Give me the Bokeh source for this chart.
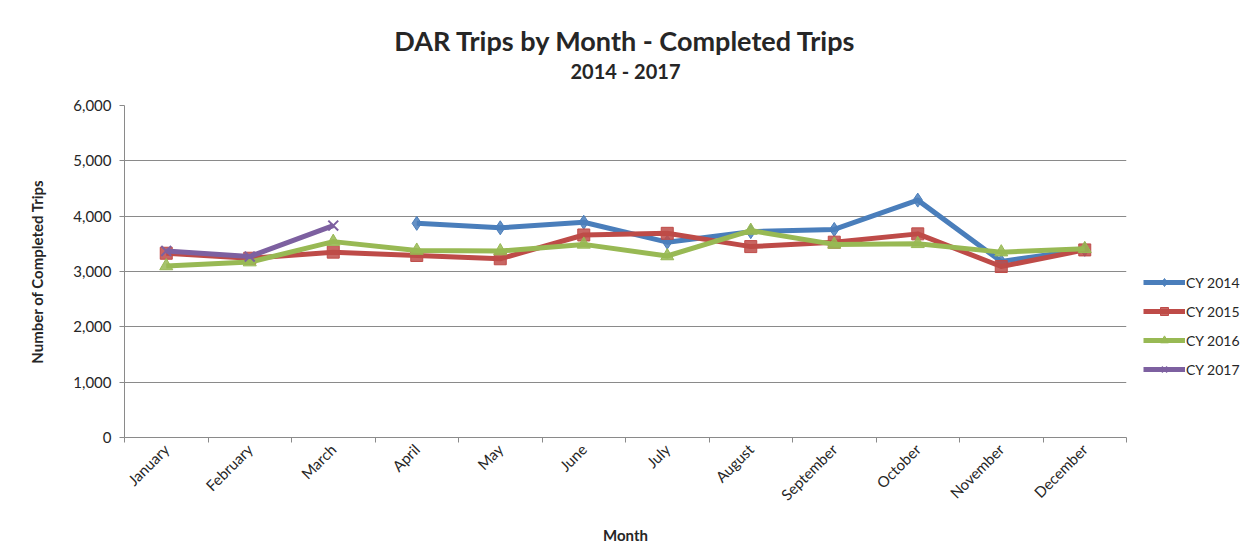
import math
from bokeh.plotting import figure
from bokeh.models import (FixedTicker, NumeralTickFormatter, Legend, LegendItem,
                          Title, Range1d)
from bokeh.embed import file_html
from bokeh.resources import INLINE

nan = float("nan")

months = ["January", "February", "March", "April", "May", "June", "July",
          "August", "September", "October", "November", "December"]
cy2014 = [nan, nan, nan, 3870, 3790, 3890, 3530, 3720, 3760, 4290, 3180, 3400]
cy2015 = [3330, 3240, 3350, 3290, 3230, 3660, 3690, 3450, 3530, 3680, 3090, 3390]
cy2016 = [3100, 3170, 3540, 3380, 3370, 3490, 3280, 3740, 3490, 3500, 3350, 3410]
cy2017 = [3370, 3270, 3830, nan, nan, nan, nan, nan, nan, nan, nan, nan]
y_ticks = [0, 1000, 2000, 3000, 4000, 5000, 6000]

series = [
    ("CY 2014", cy2014, "#4A7EBB", "diamond", 14),
    ("CY 2015", cy2015, "#BE4B48", "square", 12),
    ("CY 2016", cy2016, "#98B954", "triangle", 13),
    ("CY 2017", cy2017, "#7D60A0", "x", 14),
]

xs = [i + 0.5 for i in range(len(months))]
FONT = "Lato"
TXT = "#262626"
GRID = "#8a8a8a"

W, H = 1250, 556
FL, FT, FR, FB = 124, 105, 1126, 437  # frame edges in page pixels

p = figure(frame_width=FR - FL, frame_height=FB - FT,
           output_backend="svg", toolbar_location=None,
           x_range=Range1d(0, len(months)), y_range=Range1d(0, 6000),
           min_border_left=FL, min_border_right=W - FR, min_border_top=FT,
           min_border_bottom=H - FB)
p.title.visible = False
p.title.text = ""
p.outline_line_color = None
p.background_fill_color = "white"
p.border_fill_color = "white"

# titles: spacer nearest the frame, then subtitle, then main title
spacer = Title(text=" ", text_font_size="1px", standoff=20)
sub = Title(text="2014 - 2017", align="center", text_font=FONT,
            text_font_size="20px", text_font_style="bold", text_color=TXT,
            standoff=0)
main = Title(text="DAR Trips by Month - Completed Trips", align="center",
             text_font=FONT, text_font_size="27px", text_font_style="bold",
             text_color=TXT, standoff=0)
p.add_layout(spacer, "above")
p.add_layout(sub, "above")
p.add_layout(main, "above")

# axes
p.xaxis.ticker = FixedTicker(ticks=xs, minor_ticks=list(range(len(months) + 1)))
p.xaxis.major_label_overrides = {x: m for x, m in zip(xs, months)}
p.xaxis.major_label_orientation = math.pi / 4
p.xaxis.major_tick_out = 0
p.xaxis.major_tick_in = 0
p.xaxis.minor_tick_out = 5
p.xaxis.minor_tick_in = 0
p.xaxis.minor_tick_line_color = GRID
p.xaxis.axis_line_color = GRID
p.xaxis.major_label_text_font = FONT
p.xaxis.major_label_text_font_size = "15px"
p.xaxis.major_label_text_color = TXT
p.xaxis.major_label_standoff = 4
p.xaxis.axis_label = "Month"
p.xaxis.axis_label_text_font = FONT
p.xaxis.axis_label_text_font_size = "15px"
p.xaxis.axis_label_text_font_style = "bold"
p.xaxis.axis_label_text_color = TXT
p.xaxis.axis_label_standoff = 13

p.yaxis.ticker = FixedTicker(ticks=y_ticks, minor_ticks=[])
p.yaxis.formatter = NumeralTickFormatter(format="0,0")
p.yaxis.major_tick_out = 5
p.yaxis.major_tick_in = 0
p.yaxis.major_tick_line_color = GRID
p.yaxis.axis_line_color = GRID
p.yaxis.major_label_text_font = FONT
p.yaxis.major_label_text_font_size = "15px"
p.yaxis.major_label_text_color = TXT
p.yaxis.major_label_standoff = 8
p.yaxis.axis_label = "Number of Completed Trips"
p.yaxis.axis_label_text_font = FONT
p.yaxis.axis_label_text_font_size = "15px"
p.yaxis.axis_label_text_font_style = "bold"
p.yaxis.axis_label_text_color = TXT
p.yaxis.axis_label_standoff = 24

p.xgrid.visible = False
p.ygrid.ticker = FixedTicker(ticks=y_ticks)
p.ygrid.grid_line_color = GRID
p.ygrid.grid_line_width = 1

items = []
for label, vals, color, marker, size in series:
    lr = p.line(xs, vals, line_color=color, line_width=5, line_join="round")
    if marker == "x":
        sr = p.scatter(xs, vals, marker=marker, size=size, line_color=color,
                       line_width=2)
    else:
        sr = p.scatter(xs, vals, marker=marker, size=size, fill_color=color,
                       line_color=color, fill_alpha=0.85)
    items.append(LegendItem(label=label, renderers=[lr, sr]))

legend = Legend(items=items, location=(17, 58), orientation="vertical",
                glyph_width=42, glyph_height=20, label_standoff=1, spacing=9,
                padding=0, margin=0, border_line_color=None,
                background_fill_alpha=0, label_text_font=FONT,
                label_text_font_size="14px", label_text_color=TXT)
p.add_layout(legend, "right")

open("out.html", "w").write(file_html(p, INLINE))
